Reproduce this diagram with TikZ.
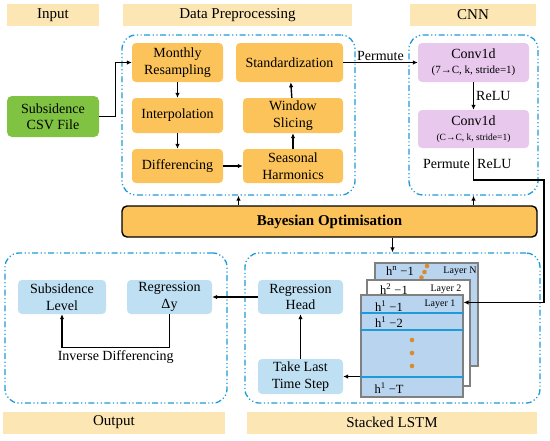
\documentclass[tikz,border=0pt]{standalone}
\usepackage{fontspec}
\setmainfont{LiberationSerif}[Extension=.ttf,UprightFont=*-Regular,BoldFont=*-Bold,ItalicFont=*-Italic,BoldItalicFont=*-BoldItalic]
\usepackage{tikz}
\usetikzlibrary{arrows.meta,positioning,calc}
\usepackage{xcolor}
\definecolor{hdrfill}{HTML}{FCE6B3}
\definecolor{prepfill}{HTML}{FCC35A}
\definecolor{csvfill}{HTML}{80C342}
\definecolor{cnnfill}{HTML}{E9C8EE}
\definecolor{outfill}{HTML}{BFE0F3}
\definecolor{layfill}{HTML}{B9D4EE}
\definecolor{grpblue}{HTML}{1E9AD6}
\definecolor{dotorange}{HTML}{D98C2B}
\tikzset{
  hdr/.style     = {fill=hdrfill, minimum height=22pt, inner sep=0pt,
                    font=\rmfamily\fontsize{15}{17}\selectfont},
  group/.style   = {draw=grpblue, line width=1.3pt, rounded corners=14pt,
                    dash pattern=on 6pt off 2.5pt on 1.2pt off 2.5pt on 1.2pt off 2.5pt,
                    inner sep=0pt},
  prepblk/.style = {fill=prepfill, rounded corners=4pt, align=center, inner sep=0pt},
  cnnblk/.style  = {fill=cnnfill, rounded corners=4pt, align=center, inner sep=0pt,
                    minimum width=111pt},
  outblk/.style  = {fill=outfill, rounded corners=4pt, align=center, inner sep=0pt,
                    minimum width=88pt, minimum height=34pt},
  layer/.style   = {draw=gray, line width=1.1pt, inner sep=0pt},
  sig/.style     = {-{Latex[length=5pt,width=4.5pt]}, line width=1.4pt},
  small/.style   = {font=\rmfamily\fontsize{10}{11}\selectfont, inner sep=0pt},
  hlab/.style    = {font=\rmfamily\fontsize{12.5}{13}\selectfont, inner sep=0pt},
}

\begin{document}
\begin{tikzpicture}[x=1pt,y=-1pt,font=\rmfamily\fontsize{14}{16.5}\selectfont]
\useasboundingbox (0,0) rectangle (550,440);
% headers
\node[hdr,minimum width=92pt]  (inhdr)   at (53,15)    {Input};
\node[hdr,minimum width=229pt] (prephdr) at (237.5,15) {Data Preprocessing};
\node[hdr,minimum width=126pt] (cnnhdr)  at (473,15)   {CNN};
\node[hdr,minimum width=222pt] (outhdr)  at (114,422.5) {Output};
\node[hdr,minimum width=290pt] (lstmhdr) at (392,422.5) {Stacked LSTM};

% dashed groups
\node[group,minimum width=233pt,minimum height=160pt] (prepgrp) at (238.5,115) {};
\node[group,minimum width=129pt,minimum height=160pt] (cnngrp)  at (473.5,115) {};
\node[group,minimum width=222pt,minimum height=150pt] (outgrp)  at (116,328) {};
\node[group,minimum width=295pt,minimum height=150pt] (lstmgrp) at (392.5,328) {};

% input
\node[fill=csvfill,rounded corners=5pt,align=center,minimum width=92pt,minimum height=41pt,inner sep=0pt]
  (csv) at (53,116.5) {Subsidence\\CSV File};

% preprocessing
\node[prepblk,minimum width=91pt,minimum height=39pt]  (monthly)  at (177.5,62.5) {Monthly\\Resampling};
\node[prepblk,minimum width=91pt,minimum height=35pt]  (interp)   at (177.5,115.5) {Interpolation};
\node[prepblk,minimum width=91pt,minimum height=34pt]  (diff)     at (177.5,166) {Differencing};
\node[prepblk,minimum width=107pt,minimum height=39pt] (stand)    at (289.5,62.5) {Standardization};
\node[prepblk,minimum width=100pt,minimum height=35pt] (window)   at (293,115.5) {Window\\Slicing};
\node[prepblk,minimum width=100pt,minimum height=34pt] (seasonal) at (293,166) {Seasonal\\Harmonics};

% cnn
\node[cnnblk,minimum height=39pt] (conv1) at (473.5,62.5)
  {Conv1d\\[-2pt]{\fontsize{11}{12}\selectfont(7→C, k, stride=1)}};
\node[cnnblk,minimum height=38pt] (conv2) at (473.5,129)
  {Conv1d\\[-2pt]{\fontsize{9.5}{11}\selectfont(C→C, k, stride=1)}};

% bayesian
\node[fill=prepfill,draw=black,line width=1.4pt,rounded corners=5pt,minimum width=415pt,
  minimum height=31pt,inner sep=0pt,font=\rmfamily\fontsize{15}{17}\selectfont\bfseries]
  (bayes) at (329.5,221.5) {Bayesian Optimisation};

% output
\node[outblk] (sublevel) at (62,297)    {Subsidence\\Level};
\node[outblk,minimum width=85pt] (regdy) at (169.5,297) {Regression\\Δy};

% lstm
\node[outblk,minimum width=85pt] (reghead)  at (300.5,297)   {Regression\\Head};
\node[outblk,minimum width=85pt,minimum height=35pt] (takelast) at (300.5,376.5) {Take Last\\Time Step};

\node[layer,fill=layfill,minimum width=103pt,minimum height=103pt] (layerN) at (426.5,314.5) {};
\node[hlab] (hN) at (400,271) {h\textsuperscript{n} −1};
\node[small] (labN) at (460,271) {Layer N};
\foreach \px/\py in {427/266,424.5/272,421.5/277.5}
  \fill[dotorange] (\px,\py) circle (2.3pt);
\node[layer,fill=white,minimum width=103pt,minimum height=106pt] (layer2) at (418.5,333) {};
\node[hlab] (h2) at (394,289) {h\textsuperscript{2} −1};
\node[small] (lab2) at (446,289) {Layer 2};
\node[layer,fill=layfill,minimum width=102pt,minimum height=102pt] (layer1) at (412,346) {};
\node[hlab] (h11) at (389,306) {h\textsuperscript{1} −1};
\node[hlab] (h12) at (389,322) {h\textsuperscript{1} −2};
\node[hlab] (h1T) at (389,388) {h\textsuperscript{1} −T};
\node[small] (lab1) at (440,304) {Layer 1};
\foreach \yy in {313,330,377}
  \draw[grpblue,line width=1.1pt] (layer1.west |- 0,\yy) -- (layer1.east |- 0,\yy);
\foreach \yy in {340,353,366}
  \fill[dotorange] (412,\yy) circle (2.3pt);

% connectors
\draw[sig] (csv.east) -- ++(16,0) |- (monthly);
\draw[sig] (monthly) -- (interp);
\draw[sig] (interp) -- (diff);
\draw[sig] (diff) -- (seasonal);
\draw[sig] (seasonal) -- (window);
\draw[sig] (window) -- (stand);
\draw[sig] (stand) -- node[above=1pt,inner sep=0pt]{Permute} (conv1);
\draw[sig] (conv1) -- node[right=2pt,inner sep=0pt]{ReLU} (conv2);
\coordinate (bendR) at (544,180);
\coordinate (l1in) at ($(layer1.north east)+(0,8)$);
\draw[sig] (conv2.south) -- node[left=3pt,inner sep=0pt]{Permute} node[right=3pt,inner sep=0pt]{ReLU}
  (conv2.south |- bendR) -- (bendR) |- (l1in);
\draw[sig] (bayes.north -| prepgrp.south) -- (prepgrp.south);
\draw[sig] (bayes.north -| cnngrp.south) -- (cnngrp.south);
\draw[sig] (bayes.south -| lstmgrp.north) -- (lstmgrp.north);
\draw[sig] (takelast.east -| layer1.west) -- (takelast);
\draw[sig] (takelast) -- (reghead);
\draw[sig] (reghead) -- (regdy);
\draw[sig] (regdy.south) -- ++(0,33) -| node[pos=0.25,below=3pt,inner sep=0pt]{Inverse Differencing} (sublevel.south);
\end{tikzpicture}
\end{document}
